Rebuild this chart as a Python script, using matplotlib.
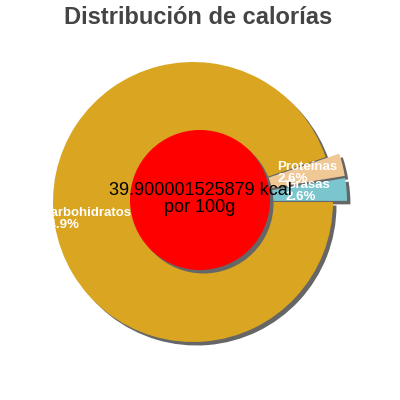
import matplotlib.pyplot as plt

# data (order = counterclockwise from 3 o'clock)
labels = ['Grasas', 'Proteínas', 'Carbohidratos']
values = [2.6, 2.6, 94.9]
colors = ['#7bc6ce', '#f0c896', '#daa520']
explode = [0.1, 0.1, 0.0]
kcal_text = '39.900001525879 kcal\npor 100g'
title = 'Distribución de calorías'

fig = plt.figure(figsize=(4, 4), dpi=100)
# axes placed so 1 data unit = 140 px, pie centre at (193, 202) px
ax = fig.add_axes([52 / 400, 0, 348 / 400, 1])
ax.axis('off')

sh = 3.5 / 140
# shadow pie
ax.pie(values, explode=explode, startangle=0, counterclock=True,
       colors=['#666666'] * 3, radius=1.0, center=(sh, -sh),
       wedgeprops={'linewidth': 0})
wedges, _ = ax.pie(values, explode=explode, startangle=0, counterclock=True,
                   colors=colors, radius=1.0, center=(0, 0),
                   wedgeprops={'linewidth': 0})
ax.set_aspect('auto')
ax.set_xlim(-141 / 140, 207 / 140)
ax.set_ylim(-198 / 140, 202 / 140)

# centre disc with shadow
cx, cy = 7 / 140, 2 / 140
ax.add_patch(plt.Circle((cx + sh, cy - sh), 0.5, color='#666666', lw=0))
ax.add_patch(plt.Circle((cx, cy), 0.5, color='#ff0000', lw=0))

# slice labels (pixel positions converted to data units)
def px(x, y):
    return (x - 193) / 140, (202 - y) / 140

pct = ['%.1f%%' % v for v in values]
label_pos = [(286, 191), (277, 173), (42, 219)]
for lab, p, (x, y) in zip(labels, pct, label_pos):
    tx, ty = px(x, y)
    ax.text(tx, ty, lab + '\n' + p, color='white', fontsize=9.5,
            fontweight='bold', family=['Liberation Sans', 'DejaVu Sans'],
            ha='left', va='center', linespacing=0.9, clip_on=True)

tx, ty = px(200, 199)
ax.text(tx, ty, kcal_text, color='black', fontsize=13,
        family=['Liberation Sans', 'DejaVu Sans'],
        ha='center', va='center', linespacing=1.0)

fig.text(198 / 400, 1 - 18 / 400, title, color='#444444', fontsize=17,
         fontweight='bold', family=['Liberation Sans', 'DejaVu Sans'],
         ha='center', va='center')

fig.savefig('out.png', dpi=100)
